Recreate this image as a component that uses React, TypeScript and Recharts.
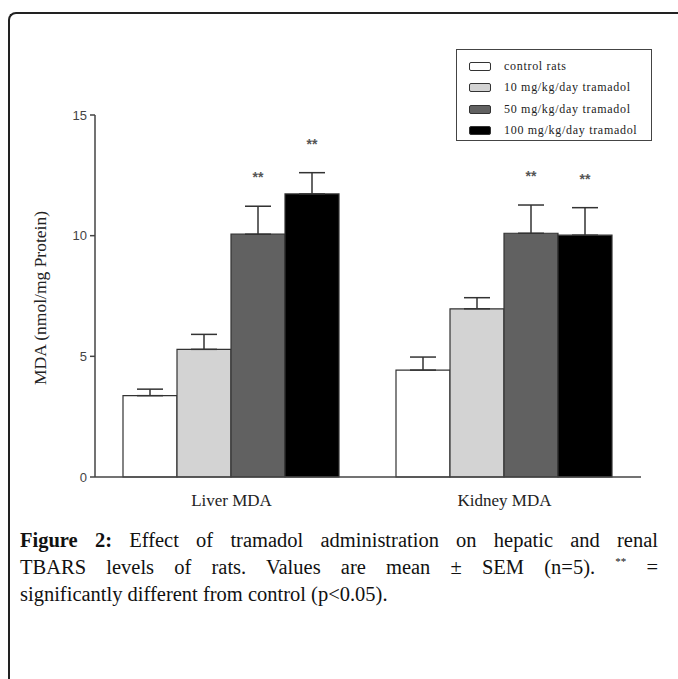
import React from "react";
import { BarChart, Bar, XAxis, YAxis, ErrorBar, LabelList, Label } from "recharts";

const categories = ["Liver MDA", "Kidney MDA"];
const seriesNames = ["control rats", "10 mg/kg/day tramadol", "50 mg/kg/day tramadol", "100 mg/kg/day tramadol"];
const seriesKeys = ["control", "d10", "d50", "d100"];
const seriesColors = ["#ffffff", "#d3d3d3", "#616161", "#000000"];
const controlValues = [3.37, 4.43];
const d10Values = [5.29, 6.97];
const d50Values = [10.06, 10.1];
const d100Values = [11.73, 10.02];
const controlSem = [0.27, 0.54];
const d10Sem = [0.62, 0.46];
const d50Sem = [1.16, 1.17];
const d100Sem = [0.88, 1.14];
const controlStars = ["", ""];
const d10Stars = ["", ""];
const d50Stars = ["**", "**"];
const d100Stars = ["**", "**"];
const yTicks = [0, 5, 10, 15];

const values = [controlValues, d10Values, d50Values, d100Values];
const sems = [controlSem, d10Sem, d50Sem, d100Sem];
const stars = [controlStars, d10Stars, d50Stars, d100Stars];

const data = categories.map((c, i) => {
  const row: any = { name: c };
  seriesKeys.forEach((k, s) => {
    row[k] = values[s][i];
    row[k + "Err"] = [0, sems[s][i]];
  });
  return row;
});

const makeStarLabel = (s: number) => (props: any) => {
  const { x, y, width, height, index } = props;
  const star = stars[s][index];
  if (!star) return null;
  const v = values[s][index];
  const errPx = (height * sems[s][index]) / v;
  return (
    <text
      x={x + width / 2}
      y={y - errPx - 24}
      textAnchor="middle"
      fontFamily="Liberation Sans, Arial, sans-serif"
      fontSize={14}
      fontWeight="bold"
      fill="#555"
    >
      {star}
    </text>
  );
};

const YLabel = () => (
  <text
    x={0}
    y={0}
    transform="translate(42,298) rotate(-90)"
    textAnchor="middle"
    dominantBaseline="middle"
    fontFamily="Liberation Serif, Times New Roman, serif"
    fontSize={17.5}
    fill="#222"
  >
    MDA (nmol/mg Protein)
  </text>
);

const captionFont = "Liberation Serif, Times New Roman, serif";

export default function App() {
  return (
    <div
      style={{
        position: "fixed",
        left: 0,
        top: 0,
        width: 678,
        height: 679,
        overflow: "hidden",
        background: "#fff",
      }}
    >
      <div
        style={{
          position: "absolute",
          left: 8,
          top: 12,
          width: 700,
          height: 700,
          borderLeft: "2px solid #222",
          borderTop: "2px solid #222",
          borderTopLeftRadius: 8,
        }}
      />
      <div style={{ position: "absolute", left: 0, top: 0 }}>
        <BarChart
          width={678}
          height={520}
          data={data}
          margin={{ top: 115, right: 37, bottom: 13, left: 35 }}
          barGap={0}
          barCategoryGap={28}
        >
          <XAxis
            dataKey="name"
            axisLine={{ stroke: "#444", strokeWidth: 1.5 }}
            tickLine={false}
            tickMargin={11}
            height={30}
            tick={{ fontFamily: "Liberation Serif, Times New Roman, serif", fontSize: 17, fill: "#222" }}
          />
          <YAxis
            domain={[0, 15]}
            ticks={yTicks}
            width={60}
            axisLine={{ stroke: "#444", strokeWidth: 1.5 }}
            tickLine={{ stroke: "#444", strokeWidth: 1.5 }}
            tickSize={5}
            tickMargin={3}
            tick={{ fontFamily: "Liberation Sans, Arial, sans-serif", fontSize: 13, fill: "#444" }}
          >
            <Label content={<YLabel />} />
          </YAxis>
          {seriesKeys.map((k, s) => (
            <Bar
              key={k}
              dataKey={k}
              name={seriesNames[s]}
              fill={seriesColors[s]}
              stroke="#333"
              strokeWidth={1.2}
              isAnimationActive={false}
            >
              <ErrorBar dataKey={k + "Err"} width={13} stroke="#333" strokeWidth={1.5} direction="y" />
              <LabelList dataKey={k} content={makeStarLabel(s)} />
            </Bar>
          ))}
        </BarChart>
      </div>
      <div
        style={{
          position: "absolute",
          left: 456,
          top: 49,
          width: 196,
          height: 92,
          border: "1px solid #444",
          boxSizing: "border-box",
          fontFamily: "Liberation Serif, Times New Roman, serif",
          fontSize: 12,
          letterSpacing: 0.7,
          color: "#222",
        }}
      >
        {seriesNames.map((n, s) => (
          <div
            key={n}
            style={{
              position: "absolute",
              left: 12,
              top: 9 + s * 21.3,
              height: 15,
              display: "flex",
              alignItems: "center",
              whiteSpace: "nowrap",
            }}
          >
            <div
              style={{
                width: 20,
                height: 7,
                background: seriesColors[s],
                border: "1px solid #333",
                borderRadius: 2,
                marginRight: 13,
              }}
            />
            <span>{n}</span>
          </div>
        ))}
      </div>
      <div
        style={{
          position: "absolute",
          left: 20,
          top: 527,
          width: 638,
          fontFamily: captionFont,
          fontSize: 20.5,
          lineHeight: "27px",
          color: "#111",
        }}
      >
        <div style={{ height: 27, whiteSpace: "nowrap", textAlign: "justify", textAlignLast: "justify" as any }}>
          <b>Figure 2:</b> Effect of tramadol administration on hepatic and renal
        </div>
        <div style={{ height: 27, whiteSpace: "nowrap", textAlign: "justify", textAlignLast: "justify" as any }}>
          TBARS levels of rats. Values are mean ± SEM (n=5).{" "}
          <span style={{ fontSize: 11, position: "relative", top: -9, lineHeight: 0 }}>**</span> =
        </div>
        <div style={{ height: 27, whiteSpace: "nowrap" }}>significantly different from control (p&lt;0.05).</div>
      </div>
    </div>
  );
}
